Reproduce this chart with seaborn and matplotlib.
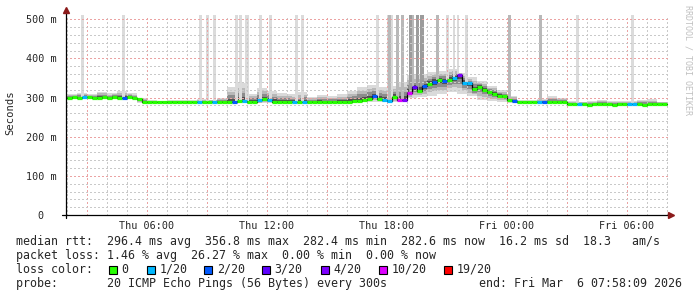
import numpy as np
import matplotlib
matplotlib.use("Agg")
import matplotlib.pyplot as plt
import seaborn as sns
from matplotlib.ticker import MultipleLocator, FuncFormatter
from matplotlib.lines import Line2D
from matplotlib.patches import Rectangle

# ---------------- data ----------------
# time in hours since Thu 00:00, median samples every 15 minutes starting 02:00
start_hour = 2.0
step_hours = 0.25

median_ms = [
    300, 301, 300, 301, 301, 300, 300, 301, 300, 301, 300, 300, 301, 300,
    296,
    288, 289, 288, 288, 289, 288, 289, 288, 288, 289, 288, 288, 289, 288, 289, 288, 288, 289, 289,
    291, 292, 289, 289, 293, 296, 295, 290, 289,
    288, 289, 288, 288, 289, 288, 288, 289, 288, 288, 289, 288, 288, 289,
    291, 292, 294, 297, 303, 297, 294, 291, 302, 294, 295, 312, 326, 318, 329, 335, 341, 344,
    343, 346, 351, 357, 338, 336, 321, 328, 320, 314, 310, 305, 303, 295, 291, 289,
    289, 288, 289, 288, 289, 288, 288, 289, 288,
    284, 283, 283, 283, 282, 283, 283, 283, 283, 282, 283, 283, 283, 283, 283, 282, 283, 283, 283, 283,
]

# lost pings (out of 20) per median sample
loss_count = [0] * len(median_ms)
loss_events = {3: 1, 11: 2, 26: 1, 29: 1, 33: 2, 35: 1, 38: 1, 40: 1, 45: 1, 47: 1,
               61: 2, 63: 1, 64: 1, 66: 10, 67: 4, 68: 10, 69: 3, 71: 2, 73: 2, 75: 2,
               77: 1, 78: 4, 79: 1, 80: 1, 89: 2, 94: 1, 95: 2, 102: 1, 112: 1, 113: 1}
for k, v in loss_events.items():
    loss_count[k] = v

# smoke envelope (outer pings) every 30 minutes
smoke_hi_ms = [308, 312, 309, 315, 311, 316, 311, 300, 293, 292,
               294, 293, 294, 296, 295, 300, 326, 338, 310, 325,
               318, 312, 309, 314, 302, 307, 305, 309, 318, 328,
               333, 328, 330, 340, 358, 360, 365, 368, 374, 364,
               352, 342, 330, 319, 305, 293, 293, 296, 305, 300,
               291, 290, 291, 294, 291, 292, 291, 295, 296, 290]
smoke_lo_ms = [298, 298, 298, 298, 298, 297, 297, 287, 287, 287,
               287, 287, 287, 287, 287, 287, 286, 286, 286, 285,
               286, 287, 287, 287, 287, 287, 287, 287, 287, 288,
               289, 288, 288, 290, 298, 302, 305, 308, 315, 310,
               303, 295, 292, 290, 287, 287, 287, 287, 287, 286,
               282, 282, 282, 282, 282, 282, 282, 282, 282, 282]

# samples with pings beyond the top of the chart
spike_hours = [2.80, 4.83, 8.68, 9.03, 9.37, 10.47, 10.67, 11.03, 11.67, 12.20, 13.47, 13.78,
               17.53, 18.17, 18.13, 18.52, 18.77, 19.17, 19.32, 19.52, 19.77, 20.52,
               21.02, 21.37, 21.57, 21.97, 24.15, 25.70, 27.55, 30.30]
spike_minutes = [9, 9, 9, 9, 9, 9, 9, 12, 9, 9, 9, 9,
                 9, 20, 9, 9, 9, 9, 8, 9, 14, 9,
                 9, 7, 7, 9, 10, 9, 9, 9]
spike_level = [1, 1, 1, 1, 1, 1, 1, 1, 1, 1, 1, 1,
               1, 1, 2, 2, 2, 3, 2, 3, 3, 2,
               1, 1, 1, 1, 2, 2, 1, 1]

loss_labels = ["0", "1/20", "2/20", "3/20", "4/20", "10/20", "19/20"]
loss_thresholds = [0, 1, 2, 3, 4, 10, 19]
loss_colors = ["#26ff00", "#00b8ff", "#0059ff", "#5e00ff", "#7e00ff", "#dd00ff", "#ff0000"]

xtick_hours = [6, 12, 18, 24, 30]
xtick_labels = ["Thu 06:00", "Thu 12:00", "Thu 18:00", "Fri 00:00", "Fri 06:00"]
ytick_values = [0, 100, 200, 300, 400, 500]
ytick_labels = ["0  ", "100 m", "200 m", "300 m", "400 m", "500 m"]

stats_rtt = "median rtt:  296.4 ms avg  356.8 ms max  282.4 ms min  282.6 ms now  16.2 ms sd  18.3   am/s"
stats_loss = "packet loss: 1.46 % avg  26.27 % max  0.00 % min  0.00 % now"
probe_text = "probe:       20 ICMP Echo Pings (56 Bytes) every 300s"
end_text = "end: Fri Mar  6 07:58:09 2026"

# ---------------- style ----------------
sns.set_style("white")
plt.rcParams['font.family'] = ['DejaVu Sans Mono']

W, H = 697, 297
fig = plt.figure(figsize=(W / 100, H / 100), dpi=100)
fig.patch.set_facecolor("white")


def fx(px):
    return px / W


def fy(py):
    return 1 - py / H


ax = fig.add_axes([fx(66), fy(215), (669 - 66) / W, (215 - 15.4) / H])
ax.set_xlim(1.965, 32.115)
ax.set_ylim(0, 510)
for s in ax.spines.values():
    s.set_visible(False)

med = np.array(median_ms, dtype=float)
n = len(med)
t = start_hour + step_hours * np.arange(n)
t_edges = np.append(t, t[-1] + step_hours)

hi = np.maximum(np.repeat(smoke_hi_ms, 2)[:n], med)
lo = np.minimum(np.repeat(smoke_lo_ms, 2)[:n], med)

# smoke bands
band_fracs = [1.0, 0.7, 0.45, 0.22]
band_cols = ["#dadada", "#b8b8b8", "#8c8c8c", "#505050"]
for f, c in zip(band_fracs, band_cols):
    up = med + (hi - med) * f
    dn = med - (med - lo) * f
    ax.fill_between(t_edges, np.append(dn, dn[-1]), np.append(up, up[-1]),
                    step="post", color=c, lw=0, zorder=1, antialiased=False)

# spikes
spike_cols = {1: "#dbdbdb", 2: "#b8b8b8", 3: "#9c9c9c"}
order = np.argsort(spike_level, kind="stable")
for i in order:
    h = spike_hours[i]
    idx = min(int((h - start_hour) / step_hours), n - 1)
    base = med[idx]
    ax.bar(h, 600 - base, bottom=base, width=spike_minutes[i] / 60.0,
           color=spike_cols[spike_level[i]], lw=0, zorder=1.2, antialiased=False)

# grid
ax.xaxis.set_major_locator(MultipleLocator(3))
ax.xaxis.set_minor_locator(MultipleLocator(1))
ax.yaxis.set_major_locator(MultipleLocator(100))
ax.yaxis.set_minor_locator(MultipleLocator(20))
ax.grid(which="major", color="#eba3a3", lw=1.0, ls=(0, (1, 1.5)), zorder=2.5, antialiased=False)
ax.grid(which="minor", color="#c9c9c9", lw=1.0, ls=(0, (1, 1.5)), zorder=2.4, antialiased=False)
ax.set_axisbelow(False)

lab_map = dict(zip(xtick_hours, xtick_labels))
ax.xaxis.set_major_formatter(FuncFormatter(lambda v, p: lab_map.get(int(round(v)), "")))
ax.set_yticks(ytick_values)
ax.set_yticklabels(ytick_labels)
ax.tick_params(axis="both", which="major", length=3, width=0.8, color="#e07070",
               labelsize=7.3, direction="out")
ax.tick_params(axis="both", which="minor", length=2, width=0.8, color="#a0a0a0", direction="out")
ax.tick_params(axis="x", which="major", pad=1.5)
ax.tick_params(axis="y", which="major", pad=4.0)

# median line: thin black step + loss-coloured segments
sns.lineplot(x=t_edges, y=np.append(med, med[-1]), drawstyle="steps-post",
             color="black", lw=0.9, ax=ax, estimator=None, zorder=3)


def loss_color(c):
    col = loss_colors[0]
    for th, cc in zip(loss_thresholds, loss_colors):
        if c >= th:
            col = cc
    return col


seg_cols = [loss_color(c) for c in loss_count]
ax.hlines(med, t, t + step_hours, colors=seg_cols, lw=2.3, zorder=4)
ax.set_xlabel("")
ax.set_ylabel("")

# axes lines with arrows
fig.add_artist(Line2D([fx(62), fx(670)], [fy(215), fy(215)], color="black", lw=0.9))
fig.add_artist(Line2D([fx(66), fx(66)], [fy(218), fy(12)], color="black", lw=0.9))
fig.add_artist(Line2D([fx(671)], [fy(215)], marker=">", markersize=4, color="#8b1a1a", lw=0))
fig.add_artist(Line2D([fx(66)], [fy(10)], marker="^", markersize=4, color="#8b1a1a", lw=0))

# y label and watermark
fig.text(fx(10), fy(113), "Seconds", rotation=90, ha="center", va="center", fontsize=7.6)
fig.text(fx(688), fy(60), "RRDTOOL / TOBI OETIKER", rotation=270, ha="center", va="center",
         fontsize=6.0, color="#c0c0c0")

# legend text
fs = 8.4
fig.text(fx(16), fy(241.5), stats_rtt, ha="left", va="center", fontsize=fs)
fig.text(fx(16), fy(255.6), stats_loss, ha="left", va="center", fontsize=fs)
fig.text(fx(16), fy(269.5), "loss color:", ha="left", va="center", fontsize=fs)
fig.text(fx(16), fy(283.5), probe_text, ha="left", va="center", fontsize=fs)
fig.text(fx(682), fy(283.5), end_text, ha="right", va="center", fontsize=fs)

box_left_px = [108.5, 146.5, 204.3, 261.5, 320.8, 378.7, 443.6]
for bx, lab, col in zip(box_left_px, loss_labels, loss_colors):
    fig.add_artist(Rectangle((fx(bx), fy(273.5)), 8 / W, 8 / H, transform=fig.transFigure,
                             facecolor=col, edgecolor="black", lw=0.8))
    fig.text(fx(bx + 13), fy(269.5), lab, ha="left", va="center", fontsize=fs)

fig.savefig("out.png", dpi=100, facecolor="white")
